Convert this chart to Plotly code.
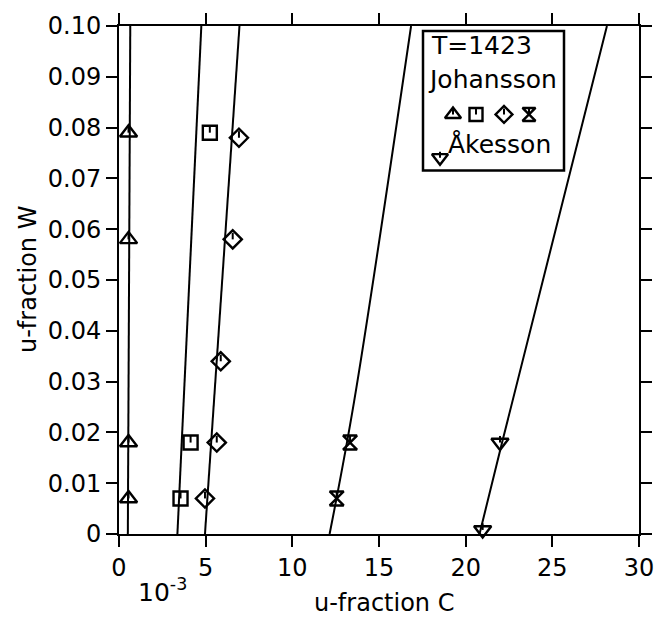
import plotly.graph_objects as go

# ---------------- data ----------------
# Johansson measurements (u-fraction C in 1e-3, u-fraction W)
tri_x = [0.55, 0.55, 0.55, 0.55]
tri_y = [0.007, 0.018, 0.058, 0.079]
sq_x = [3.55, 4.13, 5.24]
sq_y = [0.007, 0.018, 0.079]
dia_x = [4.96, 5.64, 5.87, 6.56, 6.92]
dia_y = [0.007, 0.018, 0.034, 0.058, 0.078]
hg_x = [12.56, 13.33]
hg_y = [0.007, 0.018]
# Akesson
ak_x = [20.98, 21.98]
ak_y = [0.0008, 0.018]

# calculated phase boundary lines
tri_line_x = [0.51, 0.65]
tri_line_y = [0.0, 0.1]
sq_line_x = [3.37, 4.75]
sq_line_y = [0.0, 0.1]
dia_line_x = [4.96, 6.95]
dia_line_y = [0.0, 0.1]
hg_line_x = [12.15, 13.56, 16.85]
hg_line_y = [0.0, 0.026, 0.1]
ak_line_x = [20.8, 22.1, 28.15]
ak_line_y = [0.0, 0.018, 0.1]

x_ticks = [0, 5, 10, 15, 20, 25, 30]
y_ticks = [0, 0.01, 0.02, 0.03, 0.04, 0.05, 0.06, 0.07, 0.08, 0.09, 0.10]
y_ticktext = ["0", "0.01", "0.02", "0.03", "0.04", "0.05", "0.06", "0.07", "0.08", "0.09", "0.10"]

# ---------------- figure ----------------
FONT = "DejaVu Sans"
BLACK = "black"
W, H = 669, 619
ML, MR, MT, MB = 119, 30, 17, 85

fig = go.Figure()

for lx, ly in [(tri_line_x, tri_line_y), (sq_line_x, sq_line_y), (dia_line_x, dia_line_y),
               (hg_line_x, hg_line_y), (ak_line_x, ak_line_y)]:
    fig.add_trace(go.Scatter(x=lx, y=ly, mode="lines", line=dict(color=BLACK, width=2),
                             line_shape="spline", showlegend=False, hoverinfo="skip"))

def add_markers(xs, ys, sym, size, xa="x", ya="y", up=0.0013, down=0.0):
    fig.add_trace(go.Scatter(
        x=xs, y=ys, mode="markers", xaxis=xa, yaxis=ya,
        marker=dict(symbol=sym, size=size, color=BLACK, line=dict(color=BLACK, width=2.4)),
        error_y=dict(type="data", symmetric=False, array=[up] * len(xs),
                     arrayminus=[down] * len(xs), width=0, thickness=2, color=BLACK),
        showlegend=False, cliponaxis=False, hoverinfo="skip"))

add_markers(tri_x, tri_y, "triangle-up-open", 15)
add_markers(sq_x, sq_y, "square-open", 14)
add_markers(dia_x, dia_y, "diamond-open", 14)
add_markers(hg_x, hg_y, "hourglass-open", 14)
add_markers(ak_x, ak_y, "triangle-down-open", 15)

# legend glyphs on an overlay axis in pixel units
leg_row_y = 107
add_markers([453], [leg_row_y], "triangle-up-open", 14, "x2", "y2", up=0, down=6)
add_markers([476], [leg_row_y], "square-open", 13, "x2", "y2", up=0, down=6)
add_markers([504], [leg_row_y], "diamond-open", 13, "x2", "y2", up=0, down=6)
add_markers([529], [leg_row_y], "hourglass-open", 13, "x2", "y2", up=0, down=6)
add_markers([440], [151], "triangle-down-open", 14, "x2", "y2", up=0, down=6)

axis_common = dict(showline=True, linewidth=2, linecolor=BLACK, mirror="ticks",
                   ticks="outside", ticklen=11, tickwidth=2, tickcolor=BLACK,
                   showgrid=False, zeroline=False,
                   tickfont=dict(family=FONT, size=24, color=BLACK))

def px_x(p):
    return (p - ML) / (W - ML - MR)

def px_y(p):
    return (H - MB - p) / (H - MB - MT)

fig.update_layout(
    width=W, height=H,
    margin=dict(l=ML, r=MR, t=MT, b=MB),
    paper_bgcolor="white", plot_bgcolor="white",
    xaxis=dict(range=[0, 30], tickvals=x_ticks, ticktext=[str(v) for v in x_ticks], **axis_common),
    yaxis=dict(range=[0, 0.1], tickvals=y_ticks, ticktext=y_ticktext, **axis_common),
    xaxis2=dict(range=[ML, W - MR], overlaying="x", visible=False),
    yaxis2=dict(range=[H - MB, MT], overlaying="y", visible=False),
    shapes=[dict(type="rect", xref="paper", yref="paper",
                 x0=px_x(423), x1=px_x(564), y0=px_y(164), y1=px_y(22),
                 line=dict(color=BLACK, width=2.5), fillcolor="rgba(0,0,0,0)", layer="above")],
    annotations=[
        dict(text="u-fraction C", xref="paper", yref="paper", x=px_x(384), y=px_y(604),
             xanchor="center", yanchor="middle", showarrow=False,
             font=dict(family=FONT, size=24, color=BLACK)),
        dict(text="u-fraction W", xref="paper", yref="paper", x=px_x(28), y=0.5,
             textangle=-90, xanchor="center", yanchor="middle", showarrow=False,
             font=dict(family=FONT, size=24, color=BLACK)),
        dict(text="10<sup>-3</sup>", xref="paper", yref="paper", x=px_x(162), y=px_y(591),
             xanchor="center", yanchor="middle", showarrow=False,
             font=dict(family=FONT, size=25, color=BLACK)),
        dict(text="T=1423", xref="paper", yref="paper", x=px_x(429), y=px_y(37),
             xanchor="left", yanchor="middle", showarrow=False,
             font=dict(family=FONT, size=25, color=BLACK)),
        dict(text="Johansson", xref="paper", yref="paper", x=px_x(426), y=px_y(71),
             xanchor="left", yanchor="middle", showarrow=False,
             font=dict(family=FONT, size=25, color=BLACK)),
        dict(text="Åkesson", xref="paper", yref="paper", x=px_x(446), y=px_y(138),
             xanchor="left", yanchor="middle", showarrow=False,
             font=dict(family=FONT, size=25, color=BLACK)),
    ],
)

fig.write_html("out.html")
